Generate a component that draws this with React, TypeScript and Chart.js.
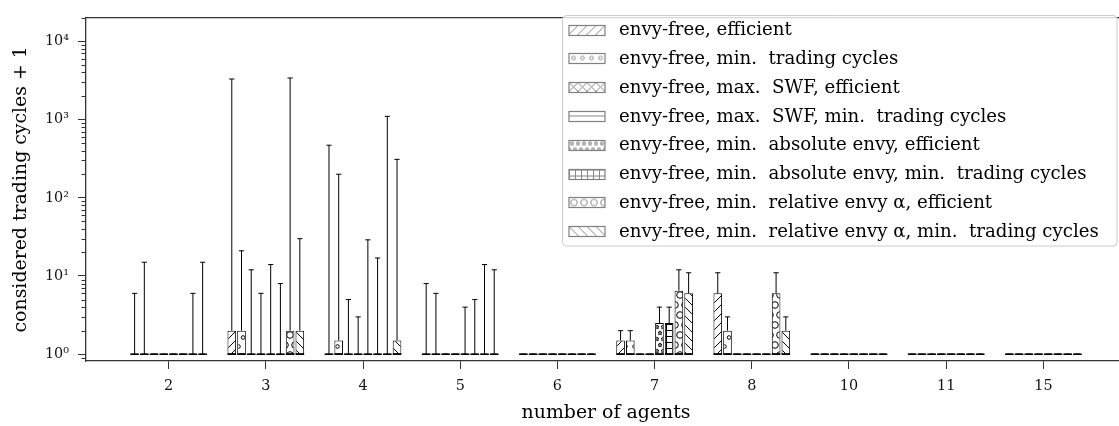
import React, { useEffect, useRef } from 'react';
import { Chart, registerables } from 'chart.js';

Chart.register(...registerables);

// ---------------- data ----------------
const categories = ['2', '3', '4', '5', '6', '7', '8', '10', '11', '15'];

const seriesNames = [
  'envy-free, efficient',
  'envy-free, min.  trading cycles',
  'envy-free, max.  SWF, efficient',
  'envy-free, max.  SWF, min.  trading cycles',
  'envy-free, min.  absolute envy, efficient',
  'envy-free, min.  absolute envy, min.  trading cycles',
  'envy-free, min.  relative envy α, efficient',
  'envy-free, min.  relative envy α, min.  trading cycles',
];

// shared lower part of every box (whisker low, Q1, median)
const whiskerLow = [1, 1, 1, 1, 1, 1, 1, 1, 1, 1];
const boxLow = [1, 1, 1, 1, 1, 1, 1, 1, 1, 1];
const medianValues = [1, 1, 1, 1, 1, 1, 1, 1, 1, 1];

// box top (Q3) and upper whisker per series
const efficientQ3 = [1, 2, 1, 1, 1, 1.5, 6, 1, 1, 1];
const efficientMax = [6, 3300, 470, 8, 1, 2, 11, 1, 1, 1];
const minCyclesQ3 = [1, 2, 1.5, 1, 1, 1.5, 2, 1, 1, 1];
const minCyclesMax = [15, 21, 200, 6, 1, 2, 3, 1, 1, 1];
const swfEfficientQ3 = [1, 1, 1, 1, 1, 1, 1, 1, 1, 1];
const swfEfficientMax = [1, 12, 5, 1, 1, 1, 1, 1, 1, 1];
const swfMinCyclesQ3 = [1, 1, 1, 1, 1, 1, 1, 1, 1, 1];
const swfMinCyclesMax = [1, 6, 3, 1, 1, 1, 1, 1, 1, 1];
const absEfficientQ3 = [1, 1, 1, 1, 1, 2.5, 1, 1, 1, 1];
const absEfficientMax = [1, 14, 29, 4, 1, 4, 1, 1, 1, 1];
const absMinCyclesQ3 = [1, 1, 1, 1, 1, 2.5, 1, 1, 1, 1];
const absMinCyclesMax = [1, 8, 17, 5, 1, 4, 1, 1, 1, 1];
const relEfficientQ3 = [1, 2, 1, 1, 1, 6.5, 6, 1, 1, 1];
const relEfficientMax = [6, 3400, 1100, 14, 1, 12, 11, 1, 1, 1];
const relMinCyclesQ3 = [1, 2, 1.5, 1, 1, 6, 2, 1, 1, 1];
const relMinCyclesMax = [15, 30, 310, 12, 1, 11, 3, 1, 1, 1];

const q3Series = [efficientQ3, minCyclesQ3, swfEfficientQ3, swfMinCyclesQ3, absEfficientQ3, absMinCyclesQ3, relEfficientQ3, relMinCyclesQ3];
const maxSeries = [efficientMax, minCyclesMax, swfEfficientMax, swfMinCyclesMax, absEfficientMax, absMinCyclesMax, relEfficientMax, relMinCyclesMax];

const yTickValues = [1, 10, 100, 1000, 10000];
const yTickLabels = ['10⁰', '10¹', '10²', '10³', '10⁴'];

const hatches = ['diag', 'circles', 'cross', 'hline', 'stars', 'grid', 'bigcircles', 'back'];

// ---------------- helpers ----------------
const FAMILY = "'DejaVu Serif'";

function fitSize(text: string, target: number): number {
  const c = document.createElement('canvas').getContext('2d')!;
  c.font = `100px ${FAMILY}`;
  const w = c.measureText(text).width;
  return (100 * target) / w;
}

function star(ctx: CanvasRenderingContext2D, cx: number, cy: number, ro: number, ri: number) {
  ctx.beginPath();
  for (let k = 0; k < 10; k++) {
    const r = k % 2 === 0 ? ro : ri;
    const a = -Math.PI / 2 + (k * Math.PI) / 5;
    const px = cx + r * Math.cos(a);
    const py = cy + r * Math.sin(a);
    if (k === 0) ctx.moveTo(px, py);
    else ctx.lineTo(px, py);
  }
  ctx.closePath();
  ctx.stroke();
}

function makePattern(kind: string, color: string): CanvasPattern {
  const c = document.createElement('canvas');
  let w = 9, h = 9;
  if (kind === 'circles') { w = 9; h = 18; }
  if (kind === 'bigcircles') { w = 10; h = 20; }
  if (kind === 'stars') { w = 6; h = 12; }
  if (kind === 'grid') { w = 6; h = 6; }
  c.width = w; c.height = h;
  const g = c.getContext('2d')!;
  g.fillStyle = '#fff';
  g.fillRect(0, 0, w, h);
  g.strokeStyle = color;
  g.lineWidth = 1;
  const line = (x1: number, y1: number, x2: number, y2: number) => {
    g.beginPath(); g.moveTo(x1, y1); g.lineTo(x2, y2); g.stroke();
  };
  const fwd = () => { line(0, h, w, 0); line(-1, 1, 1, -1); line(w - 1, h + 1, w + 1, h - 1); };
  const bwd = () => { line(0, 0, w, h); line(-1, h - 1, 1, h + 1); line(w - 1, -1, w + 1, 1); };
  const circ = (x: number, y: number, r: number) => { g.beginPath(); g.arc(x, y, r, 0, Math.PI * 2); g.stroke(); };
  switch (kind) {
    case 'diag': fwd(); break;
    case 'back': bwd(); break;
    case 'cross': fwd(); bwd(); break;
    case 'hline': line(0, 4.5, w, 4.5); break;
    case 'grid': line(0.5, 0, 0.5, h); line(0, 0.5, w, 0.5); break;
    case 'circles': circ(4.5, 4.5, 1.8); circ(0, 13.5, 1.8); circ(9, 13.5, 1.8); break;
    case 'bigcircles': circ(5, 5, 3.3); circ(0, 15, 3.3); circ(10, 15, 3.3); break;
    case 'stars':
      star(g, 3, 3, 2.1, 0.9); star(g, 0, 9, 2.1, 0.9); star(g, 6, 9, 2.1, 0.9); break;
  }
  return g.createPattern(c, 'repeat')!;
}

export default function App() {
  const ref = useRef<HTMLCanvasElement>(null);

  useEffect(() => {
    const canvas = ref.current!;
    const titleSize = fitSize('number of agents', 169);
    const legendSize = fitSize(seriesNames[7], 480);
    const tickSize = fitSize('15', 18.3);

    const barPatterns = hatches.map((k) => makePattern(k, '#000'));
    const legendPatterns = hatches.map((k) => makePattern(k, '#8a8a8a'));

    const datasets = seriesNames.map((name, i) => ({
      label: name,
      data: categories.map((_, j) => ({ x: j, y: [boxLow[j], q3Series[i][j]] })),
      backgroundColor: barPatterns[i],
      borderColor: '#000',
      borderWidth: 1,
      borderSkipped: false as const,
      categoryPercentage: 0.8,
      barPercentage: 0.89,
    }));

    const extras = {
      id: 'boxExtras',
      afterDatasetsDraw(chart: any) {
        const ctx: CanvasRenderingContext2D = chart.ctx;
        const y = chart.scales.y;
        ctx.save();
        ctx.strokeStyle = '#000';
        ctx.lineWidth = 1;
        const hl = (x1: number, x2: number, yy: number, lw = 1) => {
          ctx.lineWidth = lw; ctx.beginPath(); ctx.moveTo(x1, yy); ctx.lineTo(x2, yy); ctx.stroke();
        };
        const vl = (x: number, y1: number, y2: number) => {
          ctx.lineWidth = 1; ctx.beginPath(); ctx.moveTo(x, y1); ctx.lineTo(x, y2); ctx.stroke();
        };
        seriesNames.forEach((_, i) => {
          const meta = chart.getDatasetMeta(i);
          meta.data.forEach((el: any, j: number) => {
            const x = el.x;
            const w = el.width;
            const cw = w * 0.3;
            const pQ1 = y.getPixelForValue(boxLow[j]);
            const pQ3 = y.getPixelForValue(q3Series[i][j]);
            const pMax = y.getPixelForValue(maxSeries[i][j]);
            const pMin = y.getPixelForValue(whiskerLow[j]);
            const pMed = y.getPixelForValue(medianValues[j]);
            if (pMax < pQ3) vl(x, pQ3, pMax);
            hl(x - cw, x + cw, pMax);
            if (pMin > pQ1) vl(x, pQ1, pMin);
            hl(x - cw, x + cw, pMin);
            hl(x - w / 2, x + w / 2, pMed, 1.6);
          });
        });
        ctx.restore();
      },
      afterDraw(chart: any) {
        const ctx: CanvasRenderingContext2D = chart.ctx;
        const a = chart.chartArea;
        const y = chart.scales.y;
        ctx.save();
        // top spine
        ctx.strokeStyle = '#333';
        ctx.lineWidth = 1.3;
        ctx.beginPath(); ctx.moveTo(a.left - 0.65, a.top); ctx.lineTo(a.right, a.top); ctx.stroke();
        // minor ticks
        ctx.lineWidth = 1;
        for (let e = -1; e <= 4; e++) {
          for (let m = 2; m <= 9; m++) {
            const v = m * Math.pow(10, e);
            if (v < y.min || v > y.max) continue;
            const py = Math.round(y.getPixelForValue(v)) + 0.5;
            ctx.beginPath(); ctx.moveTo(a.left - 4.5, py); ctx.lineTo(a.left, py); ctx.stroke();
          }
        }
        // legend
        const L = { left: 562.5, top: 15.5, right: 1117, bottom: 246, row0: 29.5, pitch: 28.8, px: 569, pw: 36, ph: 10, tx: 619 };
        ctx.beginPath();
        (ctx as any).roundRect(L.left, L.top, L.right - L.left, L.bottom - L.top, 4);
        ctx.fillStyle = 'rgba(255,255,255,0.8)';
        ctx.fill();
        ctx.strokeStyle = '#cccccc';
        ctx.lineWidth = 1;
        ctx.stroke();
        ctx.font = `${legendSize}px ${FAMILY}`;
        ctx.textBaseline = 'middle';
        ctx.textAlign = 'left';
        seriesNames.forEach((name, i) => {
          const cy = L.row0 + i * L.pitch;
          const top = Math.round(cy - L.ph / 2) + 0.5;
          const pat = legendPatterns[i];
          pat.setTransform(new DOMMatrix().translate(L.px, top));
          ctx.fillStyle = pat;
          ctx.fillRect(L.px, top, L.pw, L.ph);
          ctx.strokeStyle = '#808080';
          ctx.lineWidth = 1.2;
          ctx.strokeRect(L.px, top, L.pw, L.ph);
          ctx.fillStyle = '#000';
          ctx.fillText(name, L.tx, cy + 1);
        });
        ctx.restore();
      },
    };

    const chart = new Chart(canvas, {
      type: 'bar',
      data: { datasets: datasets as any },
      options: {
        animation: false,
        responsive: true,
        maintainAspectRatio: false,
        events: [],
        layout: { padding: { top: 6.5, right: 1, bottom: 0, left: 0 } },
        plugins: { legend: { display: false }, tooltip: { enabled: false } },
        scales: {
          x: {
            type: 'linear',
            min: -0.85,
            max: 9.85,
            offset: false,
            afterFit: (s: any) => { s.height = 65; },
            afterBuildTicks: (s: any) => { s.ticks = categories.map((_, i) => ({ value: i })); },
            grid: { display: true, offset: false, drawOnChartArea: false, drawTicks: true, tickLength: 8, tickColor: '#333', tickWidth: 1 },
            border: { display: true, color: '#333', width: 1.3 },
            ticks: {
              callback: (v: any) => categories[v] ?? '',
              font: { family: FAMILY, size: tickSize },
              color: '#111',
              padding: 9,
              maxRotation: 0,
              autoSkip: false,
            },
            title: {
              display: true,
              text: 'number of agents',
              font: { family: FAMILY, size: titleSize },
              color: '#000',
              padding: { top: 0, bottom: 2 },
            },
          },
          y: {
            type: 'logarithmic',
            min: 0.819,
            max: 20100,
            bounds: 'data',
            afterFit: (s: any) => { s.width = 86; },
            afterBuildTicks: (s: any) => { s.ticks = yTickValues.map((v) => ({ value: v, major: false })); },
            grid: { display: true, drawOnChartArea: false, drawTicks: true, tickLength: 8, tickColor: '#333', tickWidth: 1 },
            border: { display: true, color: '#333', width: 1.3 },
            ticks: {
              callback: (v: any) => {
                const k = yTickValues.indexOf(Number(v));
                return k >= 0 ? yTickLabels[k] : '';
              },
              font: { family: FAMILY, size: tickSize },
              color: '#111',
              padding: 9,
              autoSkip: false,
            },
            title: {
              display: true,
              text: 'considered trading cycles + 1',
              font: { family: FAMILY, size: titleSize },
              color: '#000',
              padding: { top: 10, bottom: 0 },
            },
          },
        },
      } as any,
      plugins: [extras],
    });
    return () => chart.destroy();
  }, []);

  return (
    <div style={{ position: 'fixed', left: 0, top: 0, width: 1119, height: 426, overflow: 'hidden', background: '#fff' }}>
      <div style={{ position: 'relative', width: 1127, height: 426 }}>
        <canvas ref={ref} style={{ display: 'block' }} />
      </div>
    </div>
  );
}
